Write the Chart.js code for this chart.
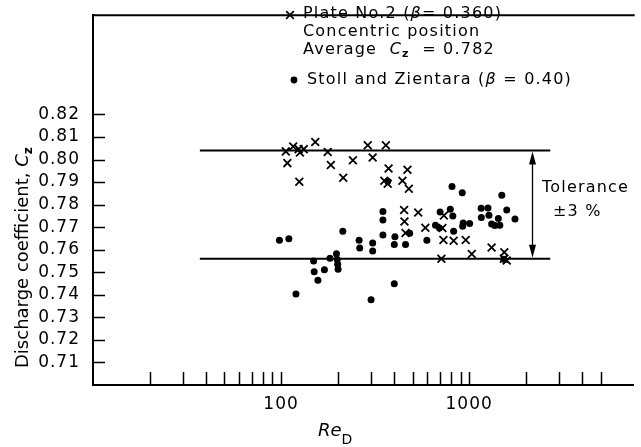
<!DOCTYPE html>
<html>
<head>
<meta charset="utf-8">
<script src="https://cdn.jsdelivr.net/npm/chart.js@4.4.1/dist/chart.umd.min.js"></script>
<style>
  body { margin: 0; background: #fff; }
</style>
</head>
<body>
<canvas id="dischargeChart" width="641" height="447"></canvas>
<script>
// Plate No.2 (beta = 0.360), concentric position
const plateRe = [106, 116, 124, 126, 132, 108, 125, 152, 177, 184, 214, 241,
  289, 361, 307, 373, 470, 354, 369, 442, 478, 451, 536, 453, 459, 585,
  712, 734, 721, 730, 827, 959, 1033, 1317, 1538, 1529, 1585];
const plateCz = [0.8036, 0.8058, 0.8046, 0.8031, 0.8046, 0.7984, 0.7901, 0.8078, 0.8033, 0.7976, 0.7919, 0.7997,
  0.8063, 0.8063, 0.8009, 0.7960, 0.7955, 0.7906, 0.7893, 0.7906, 0.7870, 0.7776, 0.7765, 0.7725, 0.7674, 0.7697,
  0.7560, 0.7752, 0.7696, 0.7643, 0.7640, 0.7643, 0.7581, 0.7610, 0.7589, 0.7560, 0.7552];

// Stoll and Zientara (beta = 0.40)
const stollRe = [98, 110, 149, 150, 157, 170, 120, 182, 197, 199, 200, 201,
  213, 260, 262, 307, 307, 301, 348, 348, 348, 369, 403, 400, 400, 459,
  483, 596, 662, 701, 695, 794, 819, 827, 811, 919, 930, 924, 1006,
  1159, 1259, 1161, 1274, 1317, 1371, 1430, 1456, 1492, 1585, 1753, 1529];
const stollCz = [0.7642, 0.7649, 0.7550, 0.7502, 0.7465, 0.7511, 0.7404, 0.7562, 0.7582, 0.7557, 0.7535, 0.7513,
  0.7682, 0.7642, 0.7608, 0.7630, 0.7594, 0.7378, 0.7769, 0.7732, 0.7665, 0.7904, 0.7657, 0.7623, 0.7449, 0.7623,
  0.7673, 0.7642, 0.7709, 0.7767, 0.7696, 0.7779, 0.7749, 0.7682, 0.7880, 0.7853, 0.7718, 0.7704, 0.7716,
  0.7784, 0.7785, 0.7743, 0.7753, 0.7714, 0.7707, 0.7738, 0.7708, 0.7842, 0.7776, 0.7736, 0.7558];

// tolerance band (+-3 %)
const tolRe = [37, 2700];
const tolHigh = 0.804;
const tolLow = 0.756;
const arrowRe = 2150;

const xTicks = [20, 30, 40, 50, 60, 70, 80, 90, 100, 200, 300, 400, 500, 600, 700, 800, 900,
  1000, 2000, 3000, 4000, 5000];
const xLabels = [100, 1000];
const yTicks = [0.71, 0.72, 0.73, 0.74, 0.75, 0.76, 0.77, 0.78, 0.79, 0.80, 0.81, 0.82];

const FONT = "'DejaVu Sans', sans-serif";

function toPoints(xs, ys) {
  return xs.map((x, i) => ({ x: x, y: ys[i] }));
}

// writes pieces of text one after the other (for italics and subscripts)
function drawRun(ctx, x, y, pieces) {
  pieces.forEach(p => {
    ctx.font = p.font;
    ctx.fillText(p.text, x, y + (p.dy || 0));
    x += ctx.measureText(p.text).width;
  });
}

function cross(ctx, x, y, r) {
  ctx.beginPath();
  ctx.moveTo(x - r, y - r); ctx.lineTo(x + r, y + r);
  ctx.moveTo(x + r, y - r); ctx.lineTo(x - r, y + r);
  ctx.stroke();
}

const decor = {
  id: 'decor',
  beforeDraw(chart) {
    chart.ctx.letterSpacing = '1px';
  },
  afterDraw(chart) {
    const ctx = chart.ctx;
    const { left, right, top, bottom } = chart.chartArea;
    const xs = chart.scales.x;
    const ys = chart.scales.y;
    ctx.save();
    ctx.strokeStyle = '#000';
    ctx.fillStyle = '#000';

    // top of the frame
    ctx.lineWidth = 2;
    ctx.beginPath();
    ctx.moveTo(left - 1, top);
    ctx.lineTo(right + 1, top);
    ctx.stroke();

    // tick marks pointing inwards
    ctx.lineWidth = 1.5;
    ctx.beginPath();
    xTicks.forEach(v => {
      const px = Math.round(xs.getPixelForValue(v)) + 0.5;
      ctx.moveTo(px, bottom);
      ctx.lineTo(px, bottom - 13);
    });
    yTicks.forEach(v => {
      const py = Math.round(ys.getPixelForValue(v)) + 0.5;
      ctx.moveTo(left, py);
      ctx.lineTo(left + 12, py);
    });
    ctx.stroke();

    // tolerance arrow
    const ax = Math.round(xs.getPixelForValue(arrowRe)) + 0.5;
    const ay1 = ys.getPixelForValue(tolHigh);
    const ay2 = ys.getPixelForValue(tolLow);
    ctx.lineWidth = 1.3;
    ctx.beginPath();
    ctx.moveTo(ax, ay1 + 6);
    ctx.lineTo(ax, ay2 - 6);
    ctx.stroke();
    ctx.beginPath();
    ctx.moveTo(ax, ay1 + 1); ctx.lineTo(ax - 3.5, ay1 + 14); ctx.lineTo(ax + 3.5, ay1 + 14);
    ctx.closePath();
    ctx.moveTo(ax, ay2 - 1); ctx.lineTo(ax - 3.5, ay2 - 14); ctx.lineTo(ax + 3.5, ay2 - 14);
    ctx.closePath();
    ctx.fill();

    ctx.letterSpacing = '1.2px';
    ctx.textBaseline = 'middle';
    ctx.textAlign = 'left';
    const reg = '16px ' + FONT;
    const ita = 'italic 16px ' + FONT;
    const sub = 'bold 11px ' + FONT;

    // legend block
    ctx.lineWidth = 1.7;
    cross(ctx, 290, 15, 3.8);
    drawRun(ctx, 303, 14, [
      { text: 'Plate No.2 (', font: reg },
      { text: '\u03b2', font: ita },
      { text: '= 0.360)', font: reg }
    ]);
    drawRun(ctx, 303, 32, [{ text: 'Concentric position', font: reg }]);
    drawRun(ctx, 303, 50, [
      { text: 'Average  ', font: reg },
      { text: 'C', font: ita },
      { text: 'z', font: sub, dy: 4 },
      { text: '  = 0.782', font: reg }
    ]);
    ctx.beginPath();
    ctx.arc(294, 80, 3.4, 0, Math.PI * 2);
    ctx.fill();
    drawRun(ctx, 307, 80, [
      { text: 'Stoll and Zientara (', font: reg },
      { text: '\u03b2', font: ita },
      { text: ' = 0.40)', font: reg }
    ]);

    // tolerance text
    drawRun(ctx, 542, 188, [{ text: 'Tolerance', font: reg }]);
    drawRun(ctx, 553, 212, [{ text: '\u00b13 %', font: reg }]);

    // x axis title
    ctx.letterSpacing = '0px';
    drawRun(ctx, 318, 431, [
      { text: 'Re', font: 'italic 18px ' + FONT },
      { text: 'D', font: '14px ' + FONT, dy: 9 }
    ]);

    // y axis title
    ctx.translate(28, 368);
    ctx.rotate(-Math.PI / 2);
    ctx.textBaseline = 'alphabetic';
    drawRun(ctx, 0, 0, [
      { text: 'Discharge coefficient, ', font: '18px ' + FONT },
      { text: 'C', font: 'italic 18px ' + FONT },
      { text: 'z', font: 'bold 12px ' + FONT, dy: 4 }
    ]);
    ctx.restore();
  }
};

const tickFont = { family: FONT, size: 17 };

new Chart(document.getElementById('dischargeChart'), {
  type: 'scatter',
  data: {
    datasets: [
      {
        label: 'Plate No.2',
        data: toPoints(plateRe, plateCz),
        pointStyle: 'crossRot',
        pointRadius: 5.5,
        borderWidth: 1.8,
        borderColor: '#000',
        backgroundColor: '#000'
      },
      {
        label: 'Stoll and Zientara',
        data: toPoints(stollRe, stollCz),
        pointStyle: 'circle',
        pointRadius: 3.5,
        borderWidth: 0,
        backgroundColor: '#000'
      },
      {
        type: 'line',
        label: 'upper',
        data: tolRe.map(x => ({ x: x, y: tolHigh })),
        borderColor: '#000',
        borderWidth: 2,
        pointRadius: 0,
        fill: false
      },
      {
        type: 'line',
        label: 'lower',
        data: tolRe.map(x => ({ x: x, y: tolLow })),
        borderColor: '#000',
        borderWidth: 2,
        pointRadius: 0,
        fill: false
      }
    ]
  },
  options: {
    responsive: false,
    animation: false,
    layout: { padding: { top: 10, right: 1, left: 0, bottom: 0 } },
    plugins: {
      legend: { display: false },
      tooltip: { enabled: false }
    },
    scales: {
      x: {
        type: 'logarithmic',
        min: 10,
        max: 7500,
        afterBuildTicks: s => { s.ticks = xTicks.map(v => ({ value: v })); },
        afterFit: s => { s.height = 62; },
        grid: { display: false },
        border: { display: true, color: '#000', width: 2 },
        ticks: {
          autoSkip: false,
          maxRotation: 0,
          padding: 1,
          color: '#000',
          font: tickFont,
          callback: v => xLabels.includes(v) ? String(v) : ''
        }
      },
      y: {
        min: 0.70,
        max: 0.864,
        afterBuildTicks: s => { s.ticks = yTicks.map(v => ({ value: v })); },
        afterFit: s => { s.width = 93; },
        grid: { display: false },
        border: { display: true, color: '#000', width: 2 },
        ticks: {
          padding: 5,
          color: '#000',
          font: tickFont,
          callback: v => v.toFixed(2)
        }
      }
    }
  },
  plugins: [decor]
});
</script>
</body>
</html>
